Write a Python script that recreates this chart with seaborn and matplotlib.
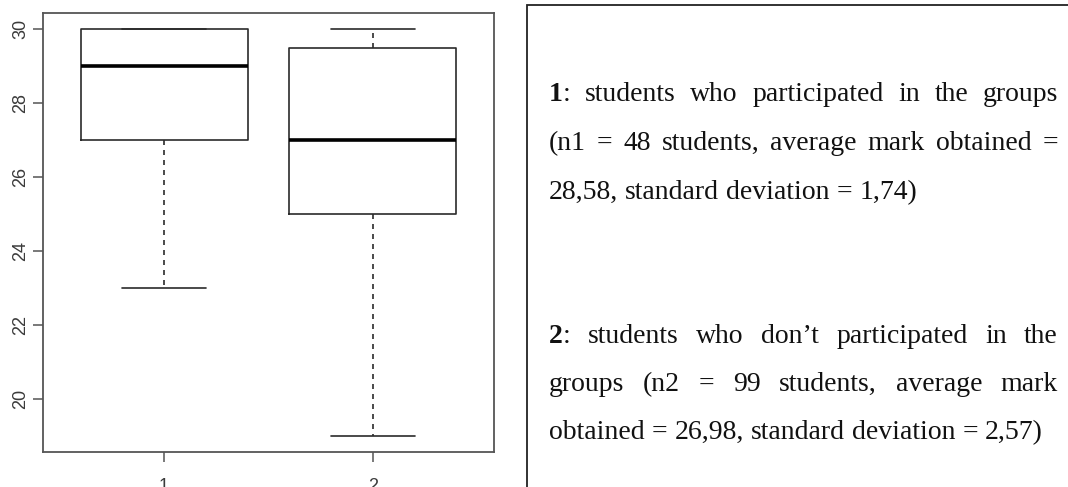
import matplotlib
matplotlib.use("Agg")
import matplotlib.pyplot as plt
import seaborn as sns
import pandas as pd
from matplotlib.patches import Rectangle

# five-number summaries: lower whisker, Q1, median, Q3, upper whisker
group_labels = ["1", "2"]
group1_marks = [23, 27, 29, 30, 30]
group2_marks = [19, 25, 27, 29.5, 30]
y_ticks = [20, 22, 24, 26, 28, 30]

# caption text on the right (bold group number, then the justified lines)
note1_label = "1"
note1_lines = ["students who participated in the groups",
               "(n1 = 48 students, average mark obtained =",
               "28,58, standard deviation = 1,74)"]
note2_label = "2"
note2_lines = ["students who don\u2019t participated in the",
               "groups (n2 = 99 students, average mark",
               "obtained = 26,98, standard deviation = 2,57)"]

df = pd.DataFrame({
    "group": [group_labels[0]] * len(group1_marks) + [group_labels[1]] * len(group2_marks),
    "mark": group1_marks + group2_marks,
})

sns.set_style("white")
plt.rcParams["font.family"] = ["Liberation Sans", "DejaVu Sans"]

W, H = 1068, 487
fig = plt.figure(figsize=(W / 100, H / 100), dpi=100)
ax = fig.add_axes([43 / W, (H - 452) / H, 451 / W, 439 / H])

line_col = "#2b2b2b"
sns.boxplot(data=df, x="group", y="mark", order=group_labels, width=0.8, whis=1.5,
            fill=False, color=line_col, linewidth=1.2, showfliers=False,
            medianprops=dict(color="black", linewidth=2.6),
            whiskerprops=dict(linestyle=(0, (3, 3))),
            ax=ax)

ax.set_xlim(-0.58, 1.58)
ax.set_ylim(18.56, 30.44)
ax.set_yticks(y_ticks)
ax.set_yticklabels([str(t) for t in y_ticks], rotation=90, va="center")
ax.set_xlabel("")
ax.set_ylabel("")
ax.tick_params(axis="both", length=7, width=1.1, color="#555555",
               labelcolor="#3a3a3a", labelsize=13, left=True, bottom=True)
ax.tick_params(axis="y", pad=3)
ax.tick_params(axis="x", pad=12)
for sp in ax.spines.values():
    sp.set_visible(True)
    sp.set_color("#555555")
    sp.set_linewidth(1.3)

# frame of the caption box (runs off the right and bottom of the image)
fig.patches.append(Rectangle((527 / W, -0.1), 0.6, 1.1 - 5 / H, transform=fig.transFigure,
                             fill=False, ec="#222222", lw=1.3, zorder=0))

serif = ["Liberation Serif", "DejaVu Serif"]
fsize = 20
text_left, text_right = 549, 1058
renderer = fig.canvas.get_renderer()


def px(x, y):
    return x / W, 1 - y / H


def width_of(s, weight="normal"):
    t = fig.text(0, 0, s, fontsize=fsize, family=serif, weight=weight)
    w = t.get_window_extent(renderer).width
    t.remove()
    return w


def draw_line(y, words, justify):
    # words: list of lists of (text, weight) pieces
    widths = [sum(width_of(s, wt) for s, wt in word) for word in words]
    if justify and len(words) > 1:
        gap = (text_right - text_left - sum(widths)) / (len(words) - 1)
    else:
        gap = width_of(" ")
    x = text_left
    for word, w in zip(words, widths):
        xx = x
        for s, wt in word:
            fig.text(*px(xx, y), s, fontsize=fsize, family=serif, weight=wt,
                     va="baseline", ha="left", color="#111111")
            xx += width_of(s, wt)
        x += w + gap


def draw_note(label, lines, baselines):
    for i, (line, y) in enumerate(zip(lines, baselines)):
        words = [[(w, "normal")] for w in line.split(" ")]
        if i == 0:
            words = [[(label, "bold"), (":", "normal")]] + words
        draw_line(y, words, justify=(i < len(lines) - 1))


draw_note(note1_label, note1_lines, [101, 150, 199])
draw_note(note2_label, note2_lines, [343, 391, 439])

fig.savefig("out.png", dpi=100)
